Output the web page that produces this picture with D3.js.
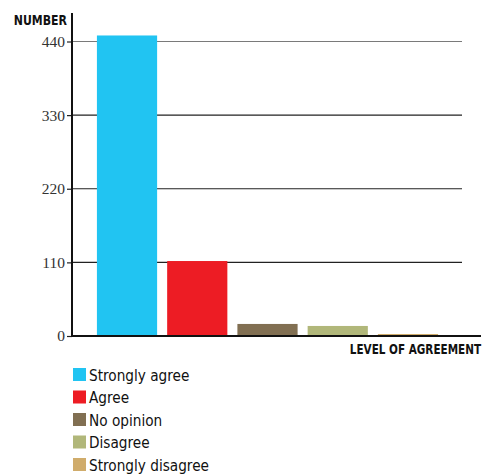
<!DOCTYPE html>
<html><head><meta charset="utf-8">
<script src="https://cdn.jsdelivr.net/npm/d3@7"></script>
<style>body{margin:0;background:#fff}</style>
</head><body>
<svg id="c" width="488" height="475"></svg>
<script>
const categories = ["Strongly agree","Agree","No opinion","Disagree","Strongly disagree"];
const values = [449, 112, 18, 15, 3];
const colors = ["#21c4f2","#ed1c24","#816f52","#b1b77a","#d0ac6b"];
const yTicks = [0,110,220,330,440];

const svg = d3.select("#c");
const x0 = 72, yBase = 336;
const y = d3.scaleLinear().domain([0,440]).range([yBase, 41.5]);
const x = d3.scaleBand().domain(categories).range([92, 443]).paddingInner(0.143).paddingOuter(0.07);

// gridlines
svg.append("g").selectAll("line").data(yTicks.filter(d=>d>0)).join("line")
  .attr("x1", x0).attr("x2", 462)
  .attr("y1", d=>y(d)).attr("y2", d=>y(d))
  .attr("stroke", d=> d===440 ? "#7a7a7a" : "#222").attr("stroke-width", 1.2);

// bars
svg.append("g").selectAll("rect").data(values).join("rect")
  .attr("x", (d,i)=>x(categories[i])).attr("width", x.bandwidth())
  .attr("y", d=>y(d)).attr("height", d=>yBase - y(d))
  .attr("fill", (d,i)=>colors[i]);

// y axis
const yAxis = d3.axisLeft(y).tickValues(yTicks).tickSize(5).tickPadding(2);
const gy = svg.append("g").attr("transform", `translate(${x0},0)`).call(yAxis);
gy.select(".domain").remove();
gy.selectAll(".tick line").attr("stroke","#222").attr("stroke-width",1.2);
gy.selectAll(".tick text").attr("font-family","'Liberation Serif', 'DejaVu Serif', serif")
  .attr("font-size", 15.5).attr("fill","#333");
svg.append("line").attr("x1", x0).attr("x2", x0).attr("y1", 13).attr("y2", yBase+1)
  .attr("stroke","#111").attr("stroke-width",2);
// x axis line
svg.append("line").attr("x1", x0).attr("x2", 481).attr("y1", yBase).attr("y2", yBase)
  .attr("stroke","#111").attr("stroke-width",2);

const condensed = "'Liberation Sans Narrow','Arial Narrow','DejaVu Sans Condensed',sans-serif";
svg.append("text").attr("transform", "translate(67,25) scale(0.84,1)").attr("text-anchor","end")
  .attr("font-family", condensed).attr("font-weight","bold").attr("font-size", 14.5)
  .attr("fill","#111").text("NUMBER");
svg.append("text").attr("transform", "translate(481,354) scale(0.8,1)").attr("text-anchor","end")
  .attr("font-family", condensed).attr("font-weight","bold").attr("font-size", 14.5)
  .attr("fill","#111").text("LEVEL OF AGREEMENT");

// legend
const lg = svg.append("g").selectAll("g").data(categories).join("g")
  .attr("transform", (d,i)=>`translate(73,${368 + i*22.5})`);
lg.append("rect").attr("width", 13).attr("height", 13).attr("fill", (d,i)=>colors[i]);
lg.append("text").attr("x", 16).attr("y", 12.5).attr("font-family", condensed)
  .attr("font-size", 15.2).attr("fill","#111").text(d=>d);
</script>
</body></html>
